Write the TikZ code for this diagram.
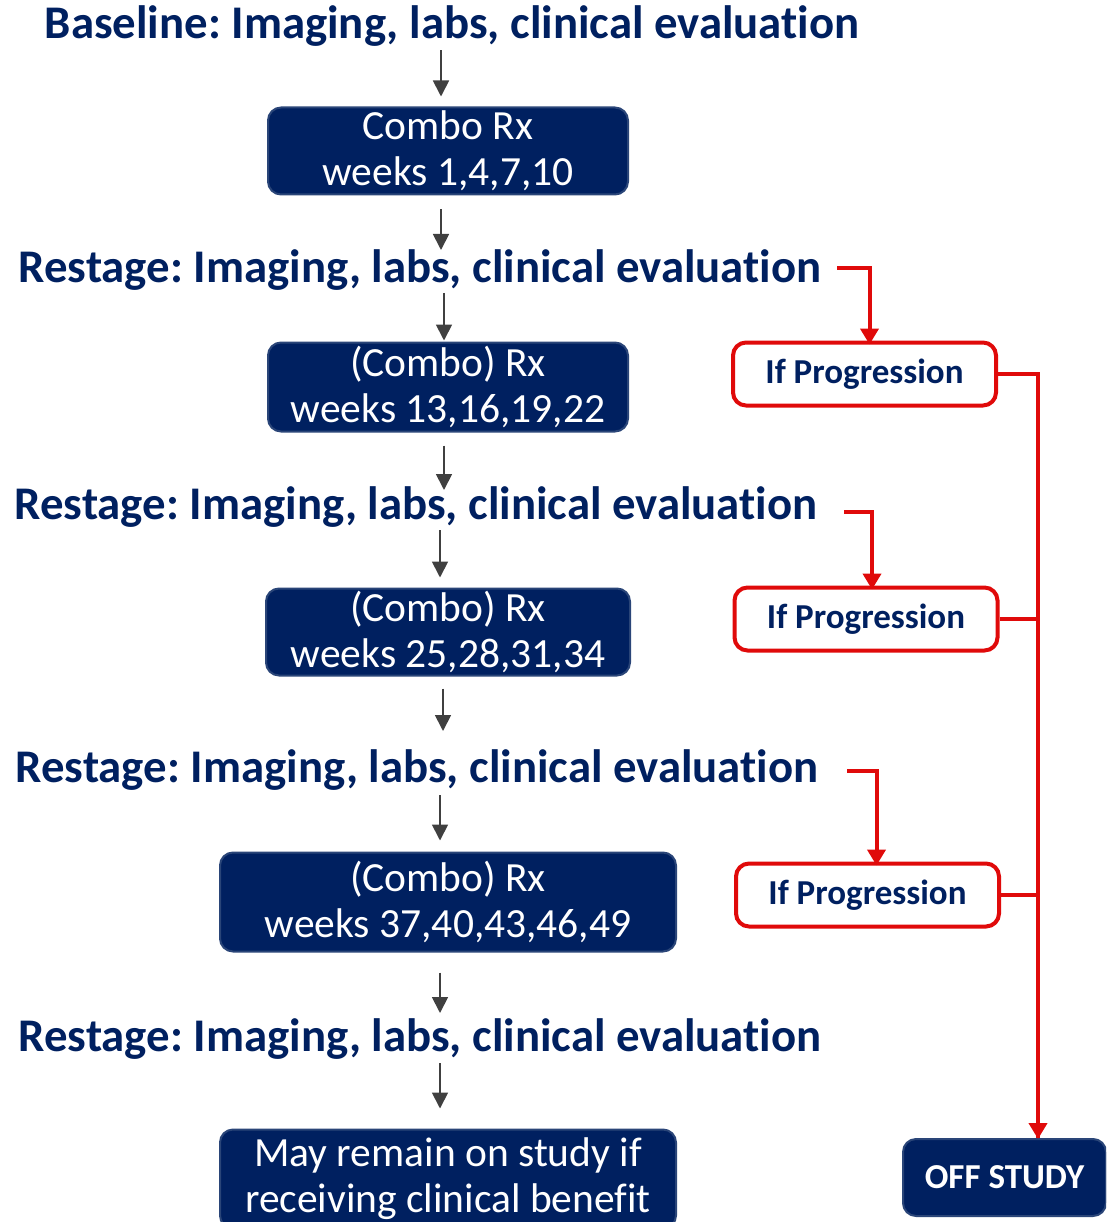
\documentclass[tikz,border=0pt]{standalone}
\usepackage{fontspec}
\setmainfont[Ligatures=NoCommon]{Carlito}
\usetikzlibrary{arrows.meta,calc}
\definecolor{navy}{HTML}{002060}
\definecolor{navyedge}{HTML}{2A4578}
\definecolor{rred}{HTML}{E00A0A}
\definecolor{garr}{HTML}{404040}
\frenchspacing
\tikzset{
  heading/.style={anchor=base,inner sep=0pt,text=navy,font=\fontsize{46.8}{50}\selectfont\bfseries},
  rxbox/.style={draw=navyedge,line width=2pt,fill=navy,rounded corners=13pt,text=white,align=center,
    font=\fontsize{41.5}{46}\selectfont,inner sep=0pt},
  progbox/.style={draw=rred,line width=4pt,fill=white,rounded corners=13pt,text=navy,
    font=\fontsize{35}{38}\selectfont\bfseries,minimum width=263pt,minimum height=63pt,inner sep=0pt},
  garrow/.style={draw=garr,line width=1.8pt,-{Triangle[length=16pt,width=16pt]}},
  rarrow/.style={draw=rred,line width=4pt,-{Triangle[length=16pt,width=18pt]}},
  rline/.style={draw=rred,line width=4pt},
}
\begin{document}
\begin{tikzpicture}[x=1pt,y=-1pt]
\useasboundingbox (0,0) rectangle (1106,1222);
\clip (0,0) rectangle (1106,1222);
% headings
\node[heading] (t0) at (452,39) {Baseline: Imaging, labs, clinical evaluation};
\node[heading] (t1) at (420,283) {Restage: Imaging, labs, clinical evaluation};
\node[heading] (t2) at (416,519) {Restage: Imaging, labs, clinical evaluation};
\node[heading] (t3) at (417,782) {Restage: Imaging, labs, clinical evaluation};
\node[heading] (t4) at (420,1051) {Restage: Imaging, labs, clinical evaluation};
% boxes
\node[rxbox,minimum width=360pt,minimum height=87pt] (b1) at (448,151) {Combo Rx\\weeks 1,4,7,10};
\node[rxbox,minimum width=360pt,minimum height=89pt] (b2) at (448,387) {(Combo) Rx\\weeks 13,16,19,22};
\node[rxbox,minimum width=364pt,minimum height=87pt] (b3) at (448,632) {(Combo) Rx\\weeks 25,28,31,34};
\node[rxbox,minimum width=456pt,minimum height=99pt] (b4) at (448,902) {(Combo) Rx\\weeks 37,40,43,46,49};
\node[rxbox,minimum width=456pt,minimum height=99pt] (b5) at (448,1179) {May remain on study if\\receiving clinical benefit};
\node[rxbox,minimum width=203pt,minimum height=77pt,font=\fontsize{35}{38}\selectfont\bfseries] (off) at (1004.5,1177.5) {OFF STUDY};
% progression boxes
\node[progbox] (p1) at (864.5,374) {If Progression};
\node[progbox] (p2) at (866,619) {If Progression};
\node[progbox] (p3) at (867.5,895) {If Progression};
% gray arrows
\draw[garrow] ($(b1.north)+(-7,-56)$) -- ([xshift=-7pt,yshift=10pt]b1.north);
\draw[garrow] ($(b1.south)+(-7,14)$) -- ($(t1.base)+(21,-33)$);
\draw[garrow] ($(t1.base)+(24,10)$) -- ([xshift=-4pt,yshift=1pt]b2.north);
\draw[garrow] ($(b2.south)+(-4,13)$) -- ($(t2.base)+(28,-29)$);
\draw[garrow] ($(t2.base)+(24,11)$) -- ([xshift=-8pt,yshift=10pt]b3.north);
\draw[garrow] ($(b3.south)+(-5,12)$) -- ($(t3.base)+(26,-51)$);
\draw[garrow] ($(t3.base)+(23,13)$) -- ([xshift=-8pt,yshift=11pt]b4.north);
\draw[garrow] ($(b4.south)+(-8,20)$) -- ($(t4.base)+(20,-38)$);
\draw[garrow] ($(t4.base)+(20,12)$) -- ([xshift=-8pt,yshift=20pt]b5.north);
% red arrows
\coordinate (bus) at (1038,0);
\draw[rarrow] ($(t1.base east)+(16,-15)$) -| ([xshift=5pt,yshift=-4pt]p1.north);
\draw[rarrow] ($(t2.base east)+(27,-7)$) -| ([xshift=6pt,yshift=-4pt]p2.north);
\draw[rarrow] ($(t3.base east)+(29,-11)$) -| ([xshift=9pt,yshift=-4pt]p3.north);
\draw[rline] (p1.east) -- (p1.east -| bus) -- (bus |- off.north);
\draw[rarrow] (bus |- p3.east) -- ([yshift=-1pt]bus |- off.north);
\draw[rline] (p2.east) -- (p2.east -| bus);
\draw[rline] (p3.east) -- (p3.east -| bus);
\end{tikzpicture}
\end{document}
